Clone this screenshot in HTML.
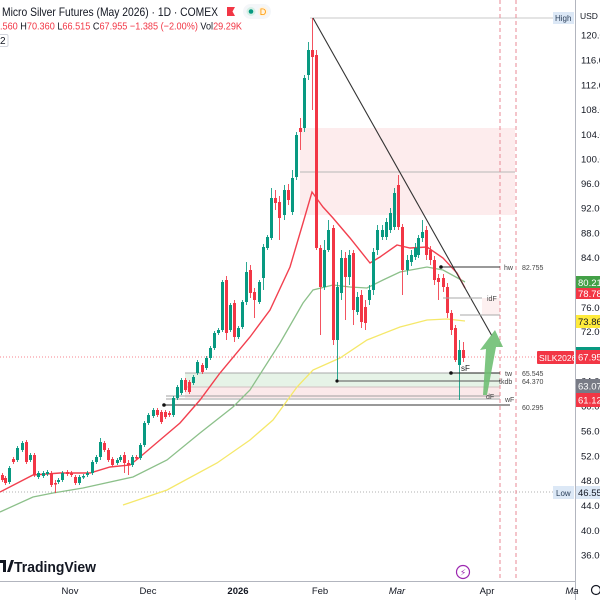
<!DOCTYPE html>
<html><head><meta charset="utf-8">
<style>
html,body{margin:0;padding:0;background:#fff;overflow:hidden;}
svg{display:block;font-family:"Liberation Sans",sans-serif;}
</style></head>
<body>
<svg id="c" width="600" height="600" viewBox="0 0 600 600" xmlns="http://www.w3.org/2000/svg">
<rect width="600" height="600" fill="#fff"/>
<!-- zones -->
<rect x="300" y="128" width="215" height="87" fill="#fdeced"/>
<line x1="300" y1="172" x2="515" y2="172" stroke="#b8b8b8" stroke-width="1"/>
<rect x="185" y="373" width="315" height="14" fill="#e6f3e7"/>
<rect x="185" y="387" width="315" height="11" fill="#fbe9ea"/>
<rect x="482" y="298" width="18" height="17" fill="#fdf0f0"/>
<line x1="185" y1="373" x2="500" y2="373" stroke="#a8a8a8" stroke-width="1"/>
<line x1="185" y1="387" x2="500" y2="387" stroke="#d0c0c0" stroke-width="1"/>
<line x1="166" y1="396" x2="500" y2="396" stroke="#a0a0a0" stroke-width="1"/>
<line x1="166" y1="399" x2="500" y2="399" stroke="#a0a0a0" stroke-width="1"/>
<line x1="164" y1="405" x2="510" y2="405" stroke="#333" stroke-width="1"/>
<circle cx="164" cy="405" r="1.8" fill="#111"/>
<!-- dotted high/low/price lines -->
<line x1="310" y1="18" x2="553" y2="18" stroke="#c8c8c8" stroke-width="1"/>
<line x1="0" y1="492" x2="553" y2="492" stroke="#b0b0b0" stroke-width="1" stroke-dasharray="1,2"/>
<line x1="0" y1="357" x2="575" y2="357" stroke="#f23645" stroke-width="1" stroke-dasharray="1,2" opacity="0.6"/>
<!-- vertical dashed -->
<line x1="500" y1="0" x2="500" y2="581" stroke="#e88a95" stroke-width="1" stroke-dasharray="4,3"/>
<line x1="516" y1="0" x2="516" y2="581" stroke="#e88a95" stroke-width="1" stroke-dasharray="4,3"/>
<!-- MAs -->
<polyline fill="none" stroke="#f5e86a" stroke-width="1.3" points="123,505 167,490 217,463 250,440 273,420 297,387 313,370 340,358 367,340 400,327 427,320 447,319 465,321"/>
<polyline fill="none" stroke="#8cc08a" stroke-width="1.3" points="0,512 33,497 53,493 83,488 133,477 167,460 200,433 233,407 250,390 280,343 303,303 313,290 333,285 350,287 367,288 383,280 400,272 427,267 443,270 465,282"/>
<polyline fill="none" stroke="#f2404f" stroke-width="1.4" points="0,492 33,475 60,473 90,473 110,467 130,465 140,457 160,440 180,423 200,400 220,373 250,337 270,310 290,267 303,223 312,192 323,207 333,218 350,238 370,263 380,257 397,245 410,248 427,247 443,258 457,273 465,288"/>
<g id="candles"></g>
<!-- trend line -->
<line x1="313" y1="18" x2="492" y2="336" stroke="#333" stroke-width="1.1"/>
<!-- level lines -->
<line x1="441" y1="267" x2="500" y2="267" stroke="#333" stroke-width="1"/>
<circle cx="441" cy="267" r="1.8" fill="#111"/>
<line x1="443" y1="298" x2="482" y2="298" stroke="#aaa" stroke-width="1"/>
<line x1="460" y1="315" x2="500" y2="315" stroke="#aaa" stroke-width="1"/>
<line x1="451" y1="373" x2="500" y2="373" stroke="#222" stroke-width="1"/>
<circle cx="451" cy="373" r="1.8" fill="#111"/>
<line x1="337" y1="381" x2="500" y2="381" stroke="#555" stroke-width="1"/>
<circle cx="337" cy="381" r="1.6" fill="#111"/>
<!-- green arrow -->
<polygon points="483,395 486,349 480,350 495,330 503,347 496,347 487,395" fill="#6fbf73" opacity="0.9"/>
<!-- annotation text -->
<g font-size="7" fill="#444">
<text x="504" y="270">hw</text><text x="522" y="270">82.755</text>
<text x="487" y="301">idF</text>
<text x="505" y="376">tw</text><text x="522" y="376">65.545</text>
<text x="499" y="384">tkdb</text><text x="522" y="384">64.370</text>
<text x="486" y="399">dF</text>
<text x="505" y="402">wF</text>
<text x="522" y="410">60.295</text>
<text x="461" y="371" font-size="8" fill="#222">sF</text>
</g>
<!-- SILK label -->
<rect x="537" y="351" width="37" height="13" rx="1" fill="#f23645"/>
<text x="539" y="361" font-size="8.5" fill="#fff">SILK2026</text>
<!-- High / Low chips -->
<rect x="553" y="12" width="21" height="12" fill="#dce8f6"/>
<text x="555" y="21" font-size="8" fill="#2a3f5a">High</text>
<rect x="553" y="486" width="21" height="13" fill="#dce8f6"/>
<text x="556" y="496" font-size="8" fill="#2a3f5a">Low</text>
<!-- axes -->
<rect x="575" y="0" width="25" height="600" fill="#fff"/>
<line x1="575.5" y1="0" x2="575.5" y2="600" stroke="#b2b5be" stroke-width="1"/>
<line x1="0" y1="581.5" x2="575" y2="581.5" stroke="#b2b5be" stroke-width="1"/>
<g font-size="9.5" fill="#131722">
<text x="580" y="19" font-size="8.5">USD</text>
<text x="581" y="38.5">120.00</text>
<text x="581" y="63.5">116.00</text>
<text x="581" y="88.5">112.00</text>
<text x="581" y="113">108.00</text>
<text x="581" y="138">104.00</text>
<text x="581" y="162.5">100.00</text>
<text x="581" y="187">96.00</text>
<text x="581" y="211.5">92.00</text>
<text x="581" y="236.5">88.00</text>
<text x="581" y="261">84.00</text>
<text x="581" y="311">76.00</text>
<text x="581" y="335">72.00</text>
<text x="581" y="384.5">64.00</text>
<text x="581" y="409.5">60.00</text>
<text x="581" y="434.5">56.00</text>
<text x="581" y="459.5">52.00</text>
<text x="581" y="484">48.00</text>
<text x="581" y="509">44.00</text>
<text x="581" y="534">40.00</text>
<text x="581" y="558.5">36.00</text>
</g>
<g font-size="9.5">
<rect x="576" y="276" width="24" height="13" fill="#43a047"/><text x="578" y="286" fill="#fff">80.21</text>
<rect x="576" y="288" width="24" height="11" fill="#f23645"/><text x="578" y="297" fill="#fff">78.78</text>
<rect x="576" y="315" width="24" height="13" fill="#ffeb3b"/><text x="578" y="325" fill="#131722">73.86</text>
<rect x="576" y="347" width="24" height="5" fill="#089981"/>
<rect x="576" y="350" width="24" height="14" fill="#f23645"/><text x="578" y="360.5" fill="#fff">67.95</text>
<rect x="576" y="379" width="24" height="14" fill="#787b86"/><text x="578" y="389.5" fill="#fff">63.07</text>
<rect x="576" y="393" width="24" height="14" fill="#f23645"/><text x="578" y="403.5" fill="#fff">61.12</text>
<rect x="576" y="486" width="24" height="13" fill="#dce8f6"/><text x="578" y="496" fill="#131722">46.55</text>
</g>
<!-- time axis -->
<g font-size="9.5" fill="#131722" text-anchor="middle">
<text x="70" y="594">Nov</text>
<text x="148" y="594">Dec</text>
<text x="238" y="594" font-weight="bold">2026</text>
<text x="320" y="594">Feb</text>
<text x="397" y="594" font-style="italic">Mar</text>
<text x="487" y="594">Apr</text>
<text x="572" y="594" font-style="italic">Ma</text>
</g>
<circle cx="596" cy="590" r="4.5" fill="none" stroke="#131722" stroke-width="1.2"/>
<!-- lightning -->
<circle cx="463" cy="572" r="6.5" fill="#fff" stroke="#9c27b0" stroke-width="1.2"/>
<text x="463" y="575.5" font-size="9" fill="#9c27b0" text-anchor="middle" font-family="DejaVu Sans, sans-serif">⚡</text>
<!-- TradingView logo -->
<path d="M0,560 h6 v12 h-3 v-9 h-3z" fill="#131722"/>
<path d="M7,572 l4,-12 h3 l-4,12z" fill="#131722"/>
<text x="14" y="572" font-size="15" font-weight="bold" fill="#131722" textLength="82" lengthAdjust="spacingAndGlyphs">TradingView</text>
<!-- header -->
<text x="2" y="16" font-size="12" fill="#131722" textLength="216" lengthAdjust="spacingAndGlyphs">Micro Silver Futures (May 2026) · 1D · COMEX</text>
<path d="M227,7 h8 l-2.5,4.5 l2.5,4.5 h-8z" fill="#f23645"/>
<rect x="243" y="4" width="28" height="15" rx="7.5" fill="#f4f6f9"/>
<circle cx="251" cy="11.5" r="4.5" fill="#d6f0e6"/>
<circle cx="251" cy="11.5" r="2.3" fill="#089981"/>
<circle cx="263" cy="11.5" r="5" fill="#fff3e0"/>
<text x="263" y="15" font-size="9" fill="#ff9800" text-anchor="middle">D</text>
<text x="0" y="29.5" font-size="10.5" fill="#131722" textLength="242" lengthAdjust="spacingAndGlyphs"><tspan fill="#f23645">.560</tspan> H<tspan fill="#f23645">70.360</tspan> L<tspan fill="#f23645">66.515</tspan> C<tspan fill="#f23645">67.955</tspan> <tspan fill="#f23645">−1.385 (−2.00%)</tspan> Vol<tspan fill="#f23645">29.29K</tspan></text>
<rect x="-1" y="34.5" width="9" height="12" rx="1.5" fill="#fff" stroke="#d1d4dc"/>
<text x="0" y="44" font-size="10" fill="#131722">2</text>
</svg>
<script>
(function(){
var d=[[2,475,480],[5,478,483],[9,482,468],[13,459,462],[17,460,448],[22,450,443],[26,442,462],[30,460,455],[34,455,475],[38,477,473],[43,476,473],[47,474,472],[51,473,485],[55,483,484,480,493],[58,482,480],[62,480,473],[67,472,474],[71,473,475],[75,477,483],[79,483,477],[83,477,476],[87,475,473],[92,473,462],[96,462,457],[100,457,442,438,460],[104,443,450],[108,450,460],[112,459,465],[117,463,460],[120,460,457],[124,455,463,452,473],[128,463,465,460,475],[132,465,457],[136,457,458],[140,458,445],[144,445,423],[148,423,415],[153,416,410],[157,410,415],[161,412,422],[165,412,417],[169,413,415],[173,415,398],[177,398,387],[181,393,380],[185,380,390],[189,382,392],[193,383,377],[197,373,362],[202,365,372],[206,368,358],[210,358,348],[214,348,333],[218,333,330],[222,330,282,280,332],[226,280,333,276,340],[230,330,305],[234,303,337,300,342],[238,337,328],[242,327,302],[246,302,272,262,305],[250,270,293,265,298],[254,292,300,288,318],[259,302,282],[263,278,247,244,290],[267,248,237],[271,238,198,188,240],[275,198,203,190,210],[279,202,218,196,240],[284,215,190,185,220],[288,190,200,184,205],[292,212,178,170,215],[296,177,135,132,180],[300,128,132,118,150],[304,128,78,75,132],[308,75,50,42,80],[312,50,57,18,110],[316,55,248,50,250],[320,248,287,245,335],[324,287,250,240,290],[328,250,230,220,252],[333,228,340,225,345],[337,340,287,282,380],[341,293,258,250,300],[345,258,277,252,320],[349,277,255,250,285],[353,253,310,250,325],[357,312,297,292,315],[361,295,322,290,328],[365,307,323,300,330],[369,300,290,285,305],[373,290,252,248,295],[377,250,230,225,255],[382,237,230,225,240],[386,237,222,218,240],[390,230,213,208,233],[394,227,193,188,230],[398,185,227,175,230],[402,227,270,224,295],[407,270,260,255,275],[411,262,255,250,266],[415,257,248,243,260],[418,255,238,235,258],[422,238,232,220,242],[426,230,255,226,260],[430,250,260,246,265],[434,260,280,256,285],[438,278,282,274,300],[443,278,287,274,292],[447,287,313,283,318],[451,313,330,310,335],[455,328,360,325,362],[459,365,350,340,400],[463,350,358,342,362]];
var g=document.getElementById('candles'),ns='http://www.w3.org/2000/svg',s='';
d.forEach(function(c){
 var x=c[0],o=c[1],cl=c[2];
 var top=Math.min(o,cl),bot=Math.max(o,cl);
 var h=c.length>3?c[3]:top-2,l=c.length>4?c[4]:bot+2;
 var col=cl<o?'#089981':'#f23645';
 if(Math.abs(cl-o)<1.5){bot=top+1.5;}
 s+='<line x1="'+(x+0.5)+'" y1="'+h+'" x2="'+(x+0.5)+'" y2="'+l+'" stroke="'+col+'" stroke-width="1" opacity="0.85"/>';
 s+='<rect x="'+(x-1)+'" y="'+top+'" width="3" height="'+Math.max(1.5,bot-top)+'" fill="'+col+'"/>';
});
g.innerHTML=s;
})();
</script>
</body></html>
